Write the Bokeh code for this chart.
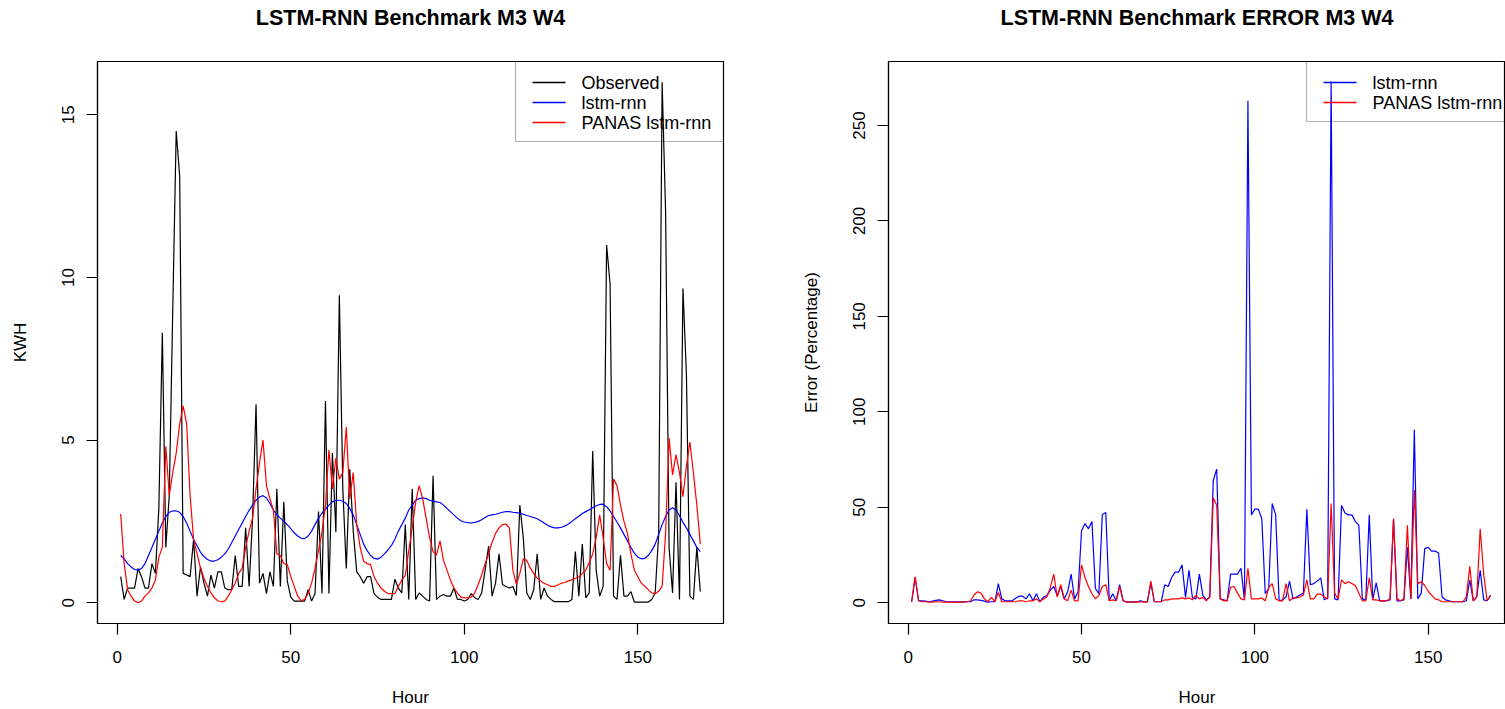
from bokeh.plotting import figure
from bokeh.layouts import row
from bokeh.models import Range1d, FixedTicker, BoxAnnotation, Label, Title
from bokeh.embed import file_html
from bokeh.resources import INLINE

# ---------------- data ----------------
hours = list(range(1, 169))

observed = [
    0.8, 0.1, 0.45, 0.45, 0.45, 1.05, 0.8, 0.45, 0.45, 1.2, 0.9, 2.9,
    8.3, 1.7, 3.3, 9.0, 14.5, 13.1, 0.9, 0.85, 0.8, 1.95, 0.2, 1.1,
    0.6, 0.2, 0.85, 0.45, 0.95, 0.95, 0.45, 0.4, 0.4, 1.45, 0.5, 0.5,
    2.3, 0.5, 2.6, 6.1, 0.6, 0.9, 0.28, 0.95, 0.5, 3.5, 0.5, 3.1,
    0.67, 0.17, 0.05, 0.05, 0.05, 0.05, 0.4, 0.05, 0.28, 2.8, 0.28, 6.2,
    0.28, 4.6, 2.17, 9.45, 3.5, 1.05, 4.1, 2.2, 0.95, 0.8, 0.6, 0.8,
    0.8, 0.28, 0.17, 0.1, 0.1, 0.1, 0.1, 0.72, 0.45, 0.3, 2.4, 0.1,
    3.5, 0.1, 0.3, 0.2, 0.1, 0.05, 3.9, 0.1, 0.2, 0.25, 0.2, 0.2,
    0.45, 0.1, 0.1, 0.05, 0.1, 0.28, 0.15, 0.1, 0.3, 1.0, 1.74, 0.2,
    0.6, 1.5, 0.56, 0.5, 0.45, 0.5, 0.22, 3.0, 2.0, 0.3, 0.1, 0.4,
    1.5, 0.1, 0.45, 0.2, 0.1, 0.03, 0.03, 0.03, 0.03, 0.03, 0.1, 1.57,
    0.2, 1.8, 0.15, 0.3, 4.66, 1.0, 0.2, 0.5, 11.0, 9.8, 0.2, 0.1,
    1.46, 0.2, 0.2, 0.34, 0.02, 0.02, 0.02, 0.02, 0.02, 0.1, 0.3, 2.1,
    16.0, 12.0, 1.7, 0.3, 3.7, 0.1, 9.66, 7.0, 0.2, 0.1, 1.7, 0.34,
]

lstm_rnn = [
    1.45, 1.35, 1.2, 1.1, 1.02, 1.0, 1.05, 1.2, 1.45, 1.7, 1.95, 2.2,
    2.45, 2.65, 2.78, 2.82, 2.82, 2.78, 2.65, 2.45, 2.2, 1.95, 1.75, 1.55,
    1.42, 1.33, 1.28, 1.28, 1.32, 1.4, 1.5, 1.65, 1.85, 2.05, 2.25, 2.45,
    2.65, 2.84, 3.0, 3.15, 3.25, 3.29, 3.22, 3.05, 2.85, 2.7, 2.6, 2.5,
    2.4, 2.28, 2.15, 2.05, 1.98, 1.97, 2.05, 2.2, 2.4, 2.6, 2.75, 2.88,
    3.0, 3.1, 3.15, 3.15, 3.12, 3.05, 2.9, 2.7, 2.4, 2.1, 1.8, 1.6,
    1.45, 1.36, 1.34, 1.4, 1.5, 1.62, 1.76, 1.95, 2.2, 2.4, 2.6, 2.85,
    3.0, 3.15, 3.2, 3.22, 3.2, 3.15, 3.12, 3.1, 3.08, 3.0, 2.9, 2.8,
    2.7, 2.6, 2.52, 2.48, 2.46, 2.45, 2.47, 2.5, 2.55, 2.62, 2.68, 2.7,
    2.72, 2.75, 2.78, 2.8, 2.8, 2.78, 2.77, 2.75, 2.72, 2.68, 2.65, 2.62,
    2.58, 2.52, 2.45, 2.38, 2.33, 2.3, 2.3, 2.32, 2.36, 2.42, 2.5, 2.58,
    2.66, 2.74, 2.8, 2.86, 2.92, 2.98, 3.02, 3.03, 2.95, 2.82, 2.65, 2.48,
    2.3, 2.1, 1.9, 1.7, 1.52, 1.4, 1.35, 1.36, 1.45, 1.6, 1.8, 2.1,
    2.4, 2.65, 2.85, 2.92, 2.85, 2.68, 2.47, 2.3, 2.1, 1.9, 1.7, 1.57,
]

panas_lstm_rnn = [
    2.73, 1.2, 0.4, 0.2, 0.05, 0.0, 0.05, 0.2, 0.3, 0.45, 0.7, 1.4,
    1.7, 4.8, 3.3, 4.0, 4.6, 5.5, 6.05, 5.5, 3.3, 1.95, 1.5, 1.06,
    0.75, 0.5, 0.3, 0.15, 0.06, 0.03, 0.05, 0.2, 0.4, 0.6, 0.9, 1.06,
    1.7, 2.2, 2.6, 3.5, 4.3, 5.0, 3.6, 3.2, 2.84, 1.5, 1.45, 1.2,
    1.17, 0.8, 0.5, 0.2, 0.06, 0.1, 0.28, 0.6, 1.06, 1.6, 2.17, 3.0,
    4.7, 3.5, 4.45, 3.8, 4.0, 5.4, 3.2, 4.0, 2.4, 1.7, 1.28, 1.2,
    1.17, 0.8, 0.6, 0.45, 0.35, 0.28, 0.28, 0.28, 0.5, 0.7, 0.84, 1.6,
    2.3, 3.1, 3.6, 3.2, 2.6, 2.0, 1.57, 1.46, 1.9, 1.3, 1.0, 0.7,
    0.45, 0.3, 0.17, 0.15, 0.15, 0.17, 0.3, 0.56, 0.85, 1.2, 1.5, 1.85,
    2.13, 2.3, 2.4, 2.42, 2.3, 1.0, 0.56, 0.9, 1.35, 1.3, 1.07, 0.9,
    0.75, 0.67, 0.6, 0.55, 0.5, 0.5, 0.55, 0.6, 0.62, 0.67, 0.7, 0.75,
    0.79, 0.9, 1.0, 1.24, 1.5, 2.0, 2.7, 2.0, 1.2, 1.0, 3.8, 3.6,
    3.0, 2.5, 2.13, 1.5, 1.0, 0.8, 0.6, 0.5, 0.4, 0.3, 0.28, 0.35,
    0.5, 2.13, 5.06, 3.93, 4.55, 4.0, 3.26, 4.2, 4.94, 4.0, 3.0, 1.8,
]

error_lstm_rnn = [
    0.5, 13.2, 1, 1, 0.8, 0.5, 0.8, 1.2, 1.5, 1, 0.5, 0.5,
    0.4, 0.5, 0.4, 0.4, 0.5, 0.5, 1.5, 1.5, 1.2, 0.8, 0.3, 0.5,
    0.5, 10, 2, 1, 1, 1, 2.3, 3.4, 3.4, 2, 4.7, 1,
    4.7, 0.5, 2.8, 3.8, 6.6, 8.5, 3.8, 8.5, 2, 5.7, 15, 2,
    5.7, 37.7, 41.5, 38.7, 42.5, 7.5, 4.7, 46.2, 47.2, 1, 4.7, 1,
    9.4, 1, 0.4, 0.4, 0.5, 0.4, 1, 0.5, 0.5, 10.4, 0.5, 0.5,
    0.5, 9.4, 8.5, 13.2, 16, 16, 19.8, 2.8, 17, 2.5, 2, 15,
    3.8, 1.5, 3, 64, 70, 2, 1.5, 1, 15, 15, 15, 18,
    1.5, 263, 46, 49, 49, 44, 4.7, 7.5, 52, 46, 1, 1.5,
    3, 11.3, 2, 3, 4, 5, 49, 9.4, 10, 11.3, 13, 1.5,
    2.5, 273, 2, 1.5, 51, 47, 46, 46, 42.5, 40.6, 2, 1.5,
    46, 1.5, 10.4, 1, 1, 1, 1.5, 44, 1, 1, 1.5, 29,
    2, 90.6, 2, 5, 28.3, 29, 27, 27, 26, 3, 1.5, 1,
    0.5, 0.5, 0.5, 0.5, 1, 12, 1, 3, 17, 1.5, 1, 3.8,
]

error_panas = [
    0.5, 13.5, 1, 0.5, 0.5, 0.3, 0.3, 0.5, 0.5, 0.3, 0.3, 0.3,
    0.3, 0.3, 0.3, 0.3, 0.5, 1, 4, 5.7, 5, 2, 0.5, 2.8,
    0.5, 5.3, 0.5, 0.5, 0.5, 0.5, 0.5, 1, 1, 0.5, 1, 1,
    2, 0.5, 2, 3, 8, 15, 3, 9.4, 2, 1, 6.6, 1,
    1, 19.8, 13.2, 8.5, 4.7, 2, 3.8, 8.5, 9.4, 1, 1.5, 1,
    8.5, 1, 0.3, 0.3, 0.3, 0.3, 0.5, 0.3, 0.3, 11.3, 0.5, 0.5,
    0.5, 1.5, 1.5, 2, 2, 2, 2.5, 2, 2.5, 1.5, 3.8, 2,
    2.8, 1, 3, 55, 51, 2, 1, 1, 8, 8.5, 5, 2,
    1.5, 18, 2, 2, 2, 2.5, 1, 8, 10, 2, 1, 1,
    10, 1, 2.5, 2.5, 3, 4, 12, 2, 2, 4.5, 4.5, 3,
    2, 52, 5, 2, 12, 10, 11, 10, 9, 5, 1, 1,
    13, 1.5, 1.5, 1, 1, 1, 2, 44, 2, 1, 2, 40.6,
    2, 59, 10, 11, 9, 6, 4, 2, 1.5, 0.5, 0.5, 0.5,
    0.5, 0.5, 0.5, 0.5, 3, 19, 1, 3, 38.7, 15, 1, 3.8,
]

x_ticks = [0, 50, 100, 150]
kwh_ticks = [0, 5, 10, 15]
err_ticks = [0, 50, 100, 150, 200, 250]

left_title = "LSTM-RNN Benchmark M3 W4"
right_title = "LSTM-RNN Benchmark ERROR M3 W4"
left_legend_labels = ["Observed", "lstm-rnn", "PANAS lstm-rnn"]
left_legend_colors = ["black", "#0000FF", "#FF0000"]
right_legend_labels = ["lstm-rnn", "PANAS lstm-rnn"]
right_legend_colors = ["#0000FF", "#FF0000"]

FONT = "Liberation Sans"
FRAME_H = 562   # frame height in px (frame top at 61, bottom at 623)


def style(p, yticks, ylabel_standoff):
    p.xgrid.visible = False
    p.ygrid.visible = False
    p.outline_line_color = "black"
    p.outline_line_width = 1.2
    p.background_fill_color = "white"
    p.border_fill_color = "white"
    p.xaxis.ticker = FixedTicker(ticks=x_ticks)
    p.yaxis.ticker = FixedTicker(ticks=yticks)
    for ax in (p.xaxis[0], p.yaxis[0]):
        ax.axis_line_color = "black"
        ax.axis_line_width = 1.2
        ax.major_tick_line_color = "black"
        ax.major_tick_line_width = 1.2
        ax.major_tick_out = 11
        ax.major_tick_in = 0
        ax.minor_tick_line_color = None
        ax.major_label_text_font = FONT
        ax.major_label_text_font_size = "17px"
        ax.major_label_text_color = "black"
        ax.axis_label_text_font = FONT
        ax.axis_label_text_font_size = "17px"
        ax.axis_label_text_font_style = "normal"
        ax.axis_label_text_color = "black"
    p.xaxis.major_label_standoff = 16
    p.xaxis.axis_label_standoff = 22
    p.yaxis.major_label_standoff = 12
    p.yaxis.axis_label_standoff = ylabel_standoff
    p.yaxis.major_label_orientation = "vertical"


def add_title(p, text):
    # an invisible spacer panel right above the frame pushes the title up to the top edge
    p.add_layout(Title(text=" ", text_font_size="1px", standoff=29), "above")
    p.add_layout(Title(text=text, text_font=FONT, text_font_size="21.5px",
                       text_font_style="bold", text_color="black",
                       align="center", vertical_align="bottom", standoff=0), "above")


def add_legend(p, labels, colors, box_h):
    # screen units: x from frame left, y upward from frame bottom
    top = FRAME_H
    p.add_layout(BoxAnnotation(left=418, right=631, top=top, bottom=top - box_h,
                               left_units="screen", right_units="screen",
                               top_units="screen", bottom_units="screen",
                               fill_alpha=0.0, line_color="black", line_width=1.2))
    for i, (lab, col) in enumerate(zip(labels, colors)):
        yc = top - 21 - i * 20
        p.add_layout(BoxAnnotation(left=435, right=468, top=yc + 0.65, bottom=yc - 0.65,
                                   left_units="screen", right_units="screen",
                                   top_units="screen", bottom_units="screen",
                                   fill_color=col, fill_alpha=1.0, line_color=None))
        p.add_layout(Label(x=484, y=yc, x_units="screen", y_units="screen", text=lab,
                           text_font=FONT, text_font_size="18px", text_color="black",
                           text_align="left", text_baseline="middle"))


# ---------------- left panel ----------------
p1 = figure(width=780, height=709, output_backend="svg", toolbar_location=None,
            title=None,
            x_range=Range1d(-5.68, 174.68), y_range=Range1d(-0.64, 16.64),
            x_axis_label="Hour", y_axis_label="KWH",
            min_border_left=97, min_border_right=57, min_border_top=61, min_border_bottom=86)
style(p1, kwh_ticks, 30)
p1.line(hours, observed, color=left_legend_colors[0], line_width=1.2)
p1.line(hours, lstm_rnn, color=left_legend_colors[1], line_width=1.2)
p1.line(hours, panas_lstm_rnn, color=left_legend_colors[2], line_width=1.2)
add_legend(p1, left_legend_labels, left_legend_colors, 80)
add_title(p1, left_title)

# ---------------- right panel ----------------
p2 = figure(width=725, height=709, output_backend="svg", toolbar_location=None,
            title=None,
            x_range=Range1d(-5.68, 172.3), y_range=Range1d(-10.9, 283.5),
            x_axis_label="Hour", y_axis_label="Error (Percentage)",
            min_border_left=108, min_border_right=0, min_border_top=61, min_border_bottom=86)
style(p2, err_ticks, 30)
p2.line(hours, error_lstm_rnn, color=right_legend_colors[0], line_width=1.2)
p2.line(hours, error_panas, color=right_legend_colors[1], line_width=1.2)
add_legend(p2, right_legend_labels, right_legend_colors, 60)
add_title(p2, right_title)

layout = row(p1, p2)
open("out.html", "w").write(file_html(layout, INLINE))
